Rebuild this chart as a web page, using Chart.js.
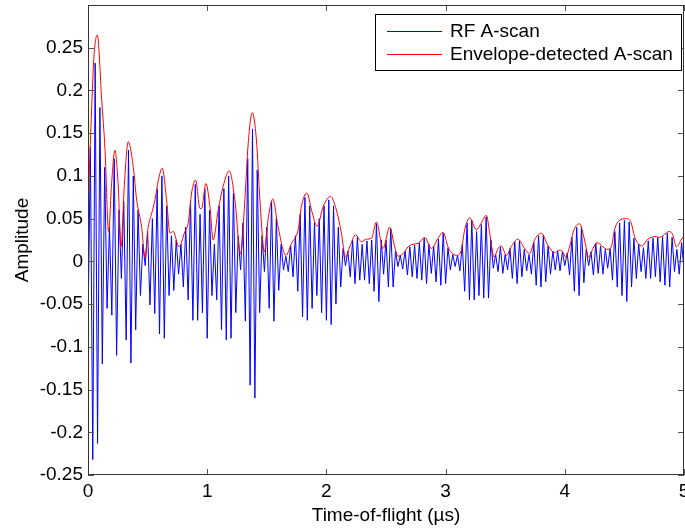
<!DOCTYPE html>
<html>
<head>
<meta charset="utf-8">
<title>A-scan</title>
<script src="https://cdn.jsdelivr.net/npm/chart.js@4.4.1/dist/chart.umd.min.js"></script>
<style>
  body { margin: 0; background: #fff; }
</style>
</head>
<body>
<canvas id="scan" width="685" height="530"></canvas>
<script>
// Axis ticks
const xTicks = [0, 1, 2, 3, 4, 5];
const yTicks = [-0.25, -0.2, -0.15, -0.1, -0.05, 0, 0.05, 0.1, 0.15, 0.2, 0.25, 0.3];
const yTickLabels = ['-0.25', '-0.2', '-0.15', '-0.1', '-0.05', '0', '0.05', '0.1', '0.15', '0.2', '0.25', ''];

// RF A-scan: successive half-cycle extremes
const rfStep = 0.02; // µs between extremes
const rfAmp = [
  -0.08, 0.134, -0.232, 0.232, -0.213, 0.18, -0.12, 0.11, -0.055, 0.04,
  -0.063, 0.12, -0.11, 0.06, -0.02, 0.07, -0.092, 0.13, -0.119, 0.1,
  -0.08, 0.06, -0.04, 0.02, -0.005, 0.035, -0.051, 0.05, -0.061, 0.085,
  -0.085, 0.1, -0.09, 0.065, -0.04, 0.03, -0.034, 0.025, -0.015, 0.02,
  -0.03, 0.04, -0.045, 0.07, -0.069, 0.09, -0.069, 0.055, -0.06, 0.085,
  -0.09, 0.06, -0.04, 0.02, -0.045, 0.065, -0.08, 0.085, -0.092, 0.1,
  -0.09, 0.08, -0.06, 0.03, -0.01, 0.045, -0.07, 0.12, -0.145, 0.155,
  -0.16, 0.107, -0.06, 0.03, -0.012, 0.04, -0.055, 0.07, -0.07, 0.05,
  -0.034, 0.02, -0.01, 0.006, -0.012, 0.018, -0.018, 0.03, -0.035, 0.055,
  -0.065, 0.075, -0.069, 0.065, -0.055, 0.045, -0.04, 0.05, -0.06, 0.065,
  -0.069, 0.072, -0.074, 0.065, -0.05, 0.04, -0.03, 0.015, -0.005, 0.012,
  -0.018, 0.025, -0.026, 0.028, -0.022, 0.02, -0.022, 0.024, -0.026, 0.025,
  -0.035, 0.044, -0.047, 0.025, -0.015, 0.025, -0.03, 0.038, -0.03, 0.012,
  -0.006, 0.007, -0.009, 0.012, -0.016, 0.017, -0.018, 0.019, -0.02, 0.022,
  -0.022, 0.027, -0.026, 0.02, -0.014, 0.018, -0.024, 0.026, -0.028, 0.033,
  -0.026, 0.016, -0.01, 0.008, -0.006, 0.007, -0.011, 0.02, -0.035, 0.045,
  -0.045, 0.048, -0.045, 0.035, -0.04, 0.043, -0.043, 0.052, -0.043, 0.025,
  -0.008, 0.008, -0.012, 0.017, -0.014, 0.008, -0.01, 0.015, -0.02, 0.023,
  -0.026, 0.024, -0.018, 0.014, -0.011, 0.008, -0.015, 0.022, -0.028, 0.03,
  -0.03, 0.031, -0.024, 0.018, -0.015, 0.012, -0.01, 0.012, -0.011, 0.011,
  -0.005, 0.01, -0.016, 0.028, -0.035, 0.04, -0.04, 0.04, -0.025, 0.014,
  -0.005, 0.011, -0.016, 0.021, -0.014, 0.018, -0.015, 0.014, -0.008, 0.015,
  -0.022, 0.035, -0.03, 0.045, -0.04, 0.048, -0.047, 0.046, -0.03, 0.027,
  -0.02, 0.02, -0.012, 0.016, -0.02, 0.024, -0.02, 0.027, -0.018, 0.028,
  -0.024, 0.029, -0.028, 0.033, -0.03, 0.028, -0.012, 0.014, -0.015, 0.022,
  -0.01
];

// Envelope-detected A-scan
const envTime = [
  0, 0.031, 0.05, 0.078, 0.115, 0.143, 0.173, 0.198, 0.226, 0.254,
  0.277, 0.305, 0.338, 0.38, 0.408, 0.45, 0.478, 0.505, 0.534, 0.562,
  0.59, 0.623, 0.659, 0.688, 0.715, 0.763, 0.813, 0.841, 0.869, 0.903,
  0.939, 0.953, 0.989, 1.023, 1.05, 1.092, 1.134, 1.185, 1.232, 1.28,
  1.316, 1.344, 1.378, 1.413, 1.442, 1.48, 1.51, 1.55, 1.595, 1.66,
  1.707, 1.763, 1.79, 1.836, 1.875, 1.922, 1.973, 2.034, 2.084, 2.126,
  2.16, 2.196, 2.244, 2.294, 2.336, 2.378, 2.42, 2.475, 2.531, 2.573,
  2.6, 2.643, 2.685, 2.727, 2.77, 2.825, 2.881, 2.936, 2.978, 3.02,
  3.048, 3.09, 3.132, 3.16, 3.202, 3.258, 3.3, 3.342, 3.37, 3.406,
  3.44, 3.467, 3.51, 3.55, 3.607, 3.663, 3.705, 3.746, 3.803, 3.858,
  3.914, 3.948, 3.979, 4.007, 4.04, 4.077, 4.124, 4.166, 4.2, 4.236,
  4.27, 4.32, 4.356, 4.39, 4.417, 4.445, 4.515, 4.557, 4.585, 4.646,
  4.697, 4.767, 4.794, 4.822, 4.878, 4.906, 4.935, 4.976, 5.0
];
const envAmp = [
  0.062, 0.18, 0.24, 0.265, 0.189, 0.13, 0.035, 0.091, 0.13, 0.087,
  0.017, 0.09, 0.14, 0.11, 0.072, 0.04, 0.005, 0.04, 0.056, 0.072,
  0.095, 0.109, 0.072, 0.033, 0.035, 0.017, 0.035, 0.045, 0.08, 0.095,
  0.062, 0.062, 0.091, 0.064, 0.025, 0.06, 0.088, 0.106, 0.072, 0.009,
  0.072, 0.138, 0.174, 0.142, 0.072, 0.011, 0.048, 0.073, 0.04, 0.007,
  0.021, 0.037, 0.064, 0.08, 0.06, 0.041, 0.064, 0.076, 0.06, 0.033,
  0.005, 0.017, 0.031, 0.023, 0.026, 0.027, 0.046, 0.015, 0.04, 0.017,
  0.006, 0.009, 0.017, 0.02, 0.021, 0.028, 0.015, 0.027, 0.034, 0.017,
  0.0105, 0.007, 0.013, 0.037, 0.051, 0.037, 0.045, 0.054, 0.033, 0.005,
  0.015, 0.018, 0.007, 0.017, 0.026, 0.015, 0.009, 0.025, 0.033, 0.019,
  0.01, 0.013, 0.012, 0.005, 0.017, 0.037, 0.044, 0.025, 0.005, 0.015,
  0.022, 0.017, 0.014, 0.017, 0.037, 0.046, 0.05, 0.045, 0.029, 0.018,
  0.026, 0.029, 0.028, 0.03, 0.035, 0.031, 0.017, 0.025, 0.03
];

const FONT = "'Liberation Sans', Arial, sans-serif";

const rfPoints = rfAmp.map((v, i) => ({ x: i * rfStep, y: v }));
const envPoints = envTime.map((t, i) => ({ x: t, y: envAmp[i] }));

// MATLAB-like frame: box, inward ticks on all four sides, boxed legend
const matlabFrame = {
  id: 'matlabFrame',
  afterDatasetsDraw(chart) {
    const { ctx, chartArea: a, scales } = chart;
    const tl = 6;
    ctx.save();
    ctx.lineWidth = 1;
    ctx.strokeStyle = '#555';
    ctx.beginPath();
    scales.x.ticks.forEach(t => {
      const px = Math.round(scales.x.getPixelForValue(t.value)) + 0.5;
      ctx.moveTo(px, a.bottom); ctx.lineTo(px, a.bottom - tl);
      ctx.moveTo(px, a.top); ctx.lineTo(px, a.top + tl);
    });
    scales.y.ticks.forEach(t => {
      const py = Math.round(scales.y.getPixelForValue(t.value)) + 0.5;
      ctx.moveTo(a.left, py); ctx.lineTo(a.left + tl, py);
      ctx.moveTo(a.right, py); ctx.lineTo(a.right - tl, py);
    });
    ctx.stroke();
    ctx.strokeStyle = '#333';
    ctx.strokeRect(a.left + 0.5, a.top + 0.5, a.right - a.left - 1, a.bottom - a.top - 1);

    // legend
    const lx = 375, ly = 14, lw = 306, lh = 56;
    ctx.fillStyle = '#fff';
    ctx.fillRect(lx, ly, lw, lh);
    ctx.strokeStyle = '#000';
    ctx.strokeRect(lx + 0.5, ly + 0.5, lw, lh);
    ctx.font = '19px ' + FONT;
    ctx.textBaseline = 'middle';
    ctx.textAlign = 'left';
    chart.data.datasets.forEach((ds, i) => {
      const yy = ly + 17 + i * 23;
      ctx.strokeStyle = ds.borderColor;
      ctx.beginPath();
      ctx.moveTo(lx + 12, yy + 0.5);
      ctx.lineTo(lx + 67, yy + 0.5);
      ctx.stroke();
      ctx.fillStyle = '#000';
      ctx.fillText(ds.label, lx + 75, yy + 1);
    });
    ctx.restore();
  }
};

new Chart(document.getElementById('scan'), {
  type: 'line',
  data: {
    datasets: [
      {
        label: 'RF A-scan',
        data: rfPoints,
        borderColor: '#0000ff',
        borderWidth: 1,
        pointRadius: 0,
        tension: 0,
        order: 2
      },
      {
        label: 'Envelope-detected A-scan',
        data: envPoints,
        borderColor: '#ff0000',
        borderWidth: 1,
        pointRadius: 0,
        cubicInterpolationMode: 'monotone',
        order: 1
      }
    ]
  },
  options: {
    responsive: false,
    animation: false,
    devicePixelRatio: 1,
    layout: { padding: { top: 5, right: 1, left: 0, bottom: 0 } },
    plugins: {
      legend: { display: false },
      tooltip: { enabled: false }
    },
    scales: {
      x: {
        type: 'linear',
        min: 0,
        max: 5,
        afterBuildTicks: s => { s.ticks = xTicks.map(v => ({ value: v })); },
        afterFit: s => { s.height = 55; s.paddingLeft = 0; s.paddingRight = 0; },
        grid: { display: false, drawTicks: false },
        border: { display: false },
        ticks: {
          color: '#000',
          font: { family: FONT, size: 19 },
          padding: 5,
          maxRotation: 0,
          callback: v => String(v)
        },
        title: {
          display: true,
          text: 'Time-of-flight (µs)',
          color: '#000',
          font: { family: FONT, size: 19 },
          padding: { top: 0, bottom: 3 }
        }
      },
      y: {
        type: 'linear',
        min: -0.25,
        max: 0.3,
        afterBuildTicks: s => { s.ticks = yTicks.map(v => ({ value: v })); },
        afterFit: s => { s.width = 88; s.paddingTop = 0; s.paddingBottom = 0; },
        grid: { display: false, drawTicks: false },
        border: { display: false },
        ticks: {
          color: '#000',
          font: { family: FONT, size: 19 },
          padding: 5,
          callback: (v, i) => yTickLabels[i]
        },
        title: {
          display: true,
          text: 'Amplitude',
          color: '#000',
          font: { family: FONT, size: 19 },
          padding: { top: 11, bottom: 0 }
        }
      }
    }
  },
  plugins: [matlabFrame]
});
</script>
</body>
</html>
